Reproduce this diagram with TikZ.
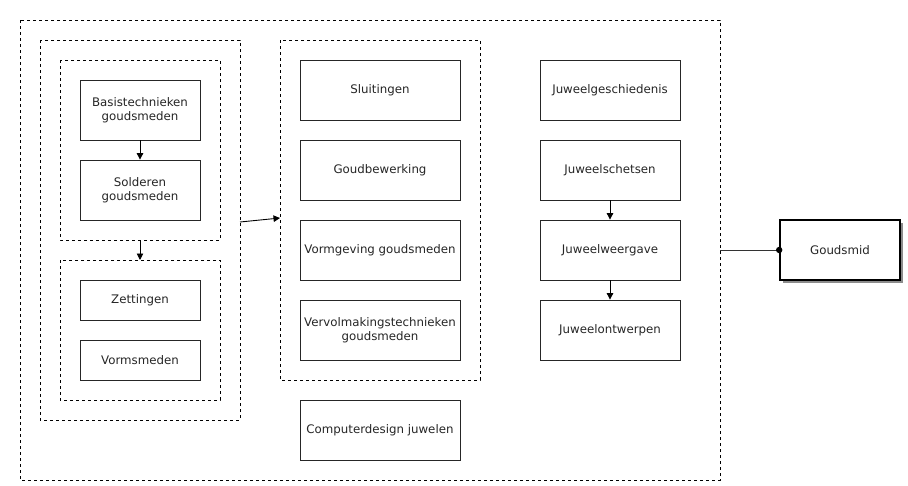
\documentclass[tikz,border=0pt]{standalone}
\usepackage{fontspec}
\setmainfont{DejaVu Sans}
\usetikzlibrary{arrows.meta,shadows}
\begin{document}
\begin{tikzpicture}[x=1pt,y=-1pt,
  box/.style={draw=black!85,line width=0.8pt,fill=white,minimum width=#1,minimum height=60pt,inner sep=0pt,align=center,font=\fontsize{11.8}{14}\selectfont,text=black!85},
  box/.default=120pt,
  grp/.style={draw=black,line width=0.8pt,dash pattern=on 3pt off 3pt},
  arr/.style={-{Triangle[length=6.5pt,width=6.5pt]},line width=0.9pt}
]
\useasboundingbox (0,0) rectangle (908,485);
% groups
\draw[grp] (20,20) rectangle (720,480);
\draw[grp] (40,40) rectangle (240,420);
\draw[grp] (60,60) rectangle (220,240);
\draw[grp] (60,260) rectangle (220,400);
\draw[grp] (280,40) rectangle (480,380);
\coordinate (gTopB) at (140,240);
\coordinate (gBotT) at (140,260);
\coordinate (gL) at (240,222);
\coordinate (gM) at (280,218);
\coordinate (gOut) at (720,250);
% left
\node[box] (bas) at (140,110) {Basistechnieken\\goudsmeden};
\node[box] (sol) at (140,190) {Solderen\\goudsmeden};
\node[box,minimum height=40pt] (zet) at (140,300) {Zettingen};
\node[box,minimum height=40pt] (vor) at (140,360) {Vormsmeden};
% middle
\node[box=160pt] (slu) at (380,90) {Sluitingen};
\node[box=160pt] (gou) at (380,170) {Goudbewerking};
\node[box=160pt] (vgv) at (380,250) {Vormgeving goudsmeden};
\node[box=160pt] (vvm) at (380,330) {Vervolmakingstechnieken\\goudsmeden};
\node[box=160pt] (cmp) at (380,430) {Computerdesign juwelen};
% right
\node[box=140pt] (jg) at (610,90) {Juweelgeschiedenis};
\node[box=140pt] (js) at (610,170) {Juweelschetsen};
\node[box=140pt] (jw) at (610,250) {Juweelweergave};
\node[box=140pt] (jo) at (610,330) {Juweelontwerpen};
% goudsmid
\node[box,line width=1.6pt,draw=black,drop shadow={shadow xshift=3pt,shadow yshift=-3pt,fill=black!45,opacity=1}] (gs) at (840,250) {Goudsmid};
% connectors
\draw[arr] (bas) -- (sol);
\draw[arr] (gTopB) -- (gBotT);
\draw[arr] (gL) -- (gM);
\draw[arr] (js) -- (jw);
\draw[arr] (jw) -- (jo);
\draw[line width=0.8pt,black!80] (gOut) -- (gs.west);
\fill (gs.west) circle (3.2pt);
\end{tikzpicture}
\end{document}
